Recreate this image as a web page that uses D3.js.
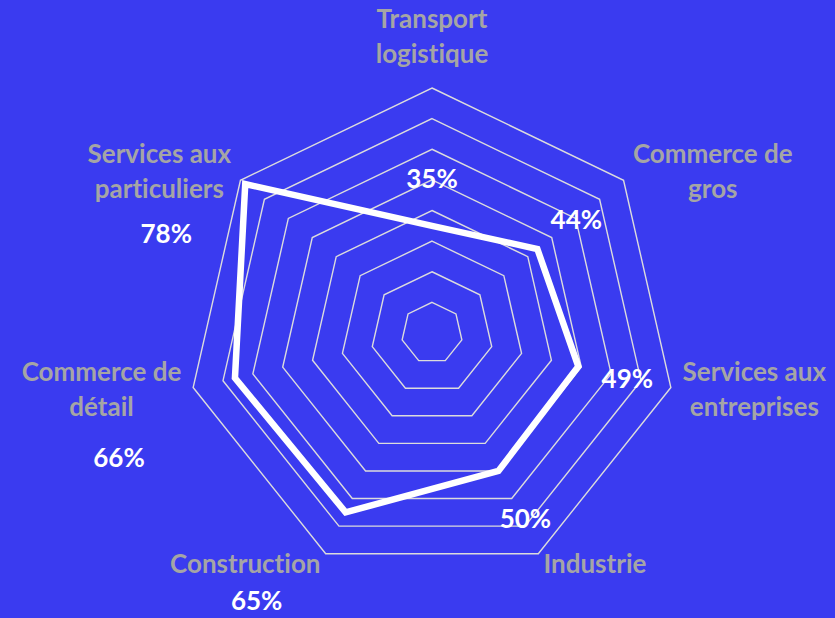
<!doctype html>
<html lang="fr">
<head>
	<meta charset="UTF-8">
	<title>Radar</title>
	<script src="https://d3js.org/d3.v7.min.js"></script>
	<style>
		body {
			margin: 0;
			padding: 0;
			background: #3a3bf0;
		}
		svg {
			display: block;
			font-family: Lato, "Open Sans", sans-serif;
			font-weight: bold;
			font-variant-ligatures: none;
		}
	</style>
</head>
<body>
	<div id="chart"></div>

	<script>
		// Data
		const categories = [
			['Transport', 'logistique'],
			['Commerce de', 'gros'],
			['Services aux', 'entreprises'],
			['Industrie'],
			['Construction'],
			['Commerce de', 'détail'],
			['Services aux', 'particuliers']
		];
		const values = [35, 44, 49, 50, 65, 66, 78];
		const gridLevels = [10, 20, 30, 40, 50, 60, 70, 80];

		// Where each value label sits, relative to its point
		const valueLabelOffset = [
			[0, -47], [39, -29], [49, 13], [27, 48],
			[-89, 89], [-116, 80], [-79, 50]
		];

		const width = 835;
		const height = 618;
		const cx = 432;
		const cy = 333;
		const radius = 245;
		const lineH = 35;

		const svg = d3.select('#chart')
			.append('svg')
			.attr('width', width)
			.attr('height', height);

		svg.append('rect')
			.attr('width', width)
			.attr('height', height)
			.attr('fill', '#3a3bf0');

		const g = svg.append('g')
			.attr('transform', 'translate(' + cx + ',' + cy + ')');

		// Scales
		const r = d3.scaleLinear()
			.domain([0, d3.max(gridLevels)])
			.range([0, radius]);

		const angle = d3.scalePoint()
			.domain(d3.range(categories.length + 1))
			.range([0, 2 * Math.PI]);

		const point = (i, v) => {
			const a = angle(i);
			return [Math.sin(a) * r(v), -Math.cos(a) * r(v)];
		};

		const radar = d3.lineRadial()
			.angle((d, i) => angle(i))
			.radius((d) => r(d))
			.curve(d3.curveLinearClosed);

		// Grid rings
		g.selectAll('.ring')
			.data(gridLevels)
			.enter()
			.append('path')
			.attr('class', 'ring')
			.attr('d', (lvl) => radar(categories.map(() => lvl)))
			.attr('fill', 'none')
			.attr('stroke', '#dcdcdc')
			.attr('stroke-width', 1.4);

		// Series line
		g.append('path')
			.attr('d', radar(values))
			.attr('fill', 'none')
			.attr('stroke', '#fff')
			.attr('stroke-width', 6.5)
			.attr('stroke-linejoin', 'miter');

		// Category labels (lines centred inside their block)
		const labelPad = 12;
		const catLabel = g.selectAll('.cat')
			.data(categories)
			.enter()
			.append('text')
			.attr('class', 'cat')
			.attr('fill', '#a5a5a5')
			.attr('font-size', 26)
			.attr('text-anchor', 'middle');

		catLabel.selectAll('tspan')
			.data((d, i) => d.map((t, k) => ({ t: t, k: k, n: d.length, i: i })))
			.enter()
			.append('tspan')
			.attr('x', 0)
			.attr('y', (d) => {
				if (d.i === 0) {
					// top label sits above the outer ring
					return -13 - (d.n - 1 - d.k) * lineH;
				}
				return 8 + (d.k - (d.n - 1) / 2) * lineH;
			})
			.text((d) => d.t);

		catLabel.attr('transform', function (d, i) {
			const a = angle(i);
			const rr = radius + labelPad;
			const s = Math.sin(a);
			let w = 0;
			d3.select(this).selectAll('tspan').each(function () {
				w = Math.max(w, this.getComputedTextLength());
			});
			const shift = Math.abs(s) < 0.1 ? 0 : (s > 0 ? w / 2 : -w / 2);
			return 'translate(' + (s * rr + shift) + ',' + (-Math.cos(a) * rr) + ')';
		});

		// Value labels
		g.selectAll('.val')
			.data(values)
			.enter()
			.append('text')
			.attr('class', 'val')
			.attr('fill', '#fff')
			.attr('font-size', 26)
			.attr('text-anchor', 'middle')
			.attr('x', (d, i) => point(i, d)[0] + valueLabelOffset[i][0])
			.attr('y', (d, i) => point(i, d)[1] + valueLabelOffset[i][1] + 9)
			.text((d) => d + '%');
	</script>
</body>
</html>
